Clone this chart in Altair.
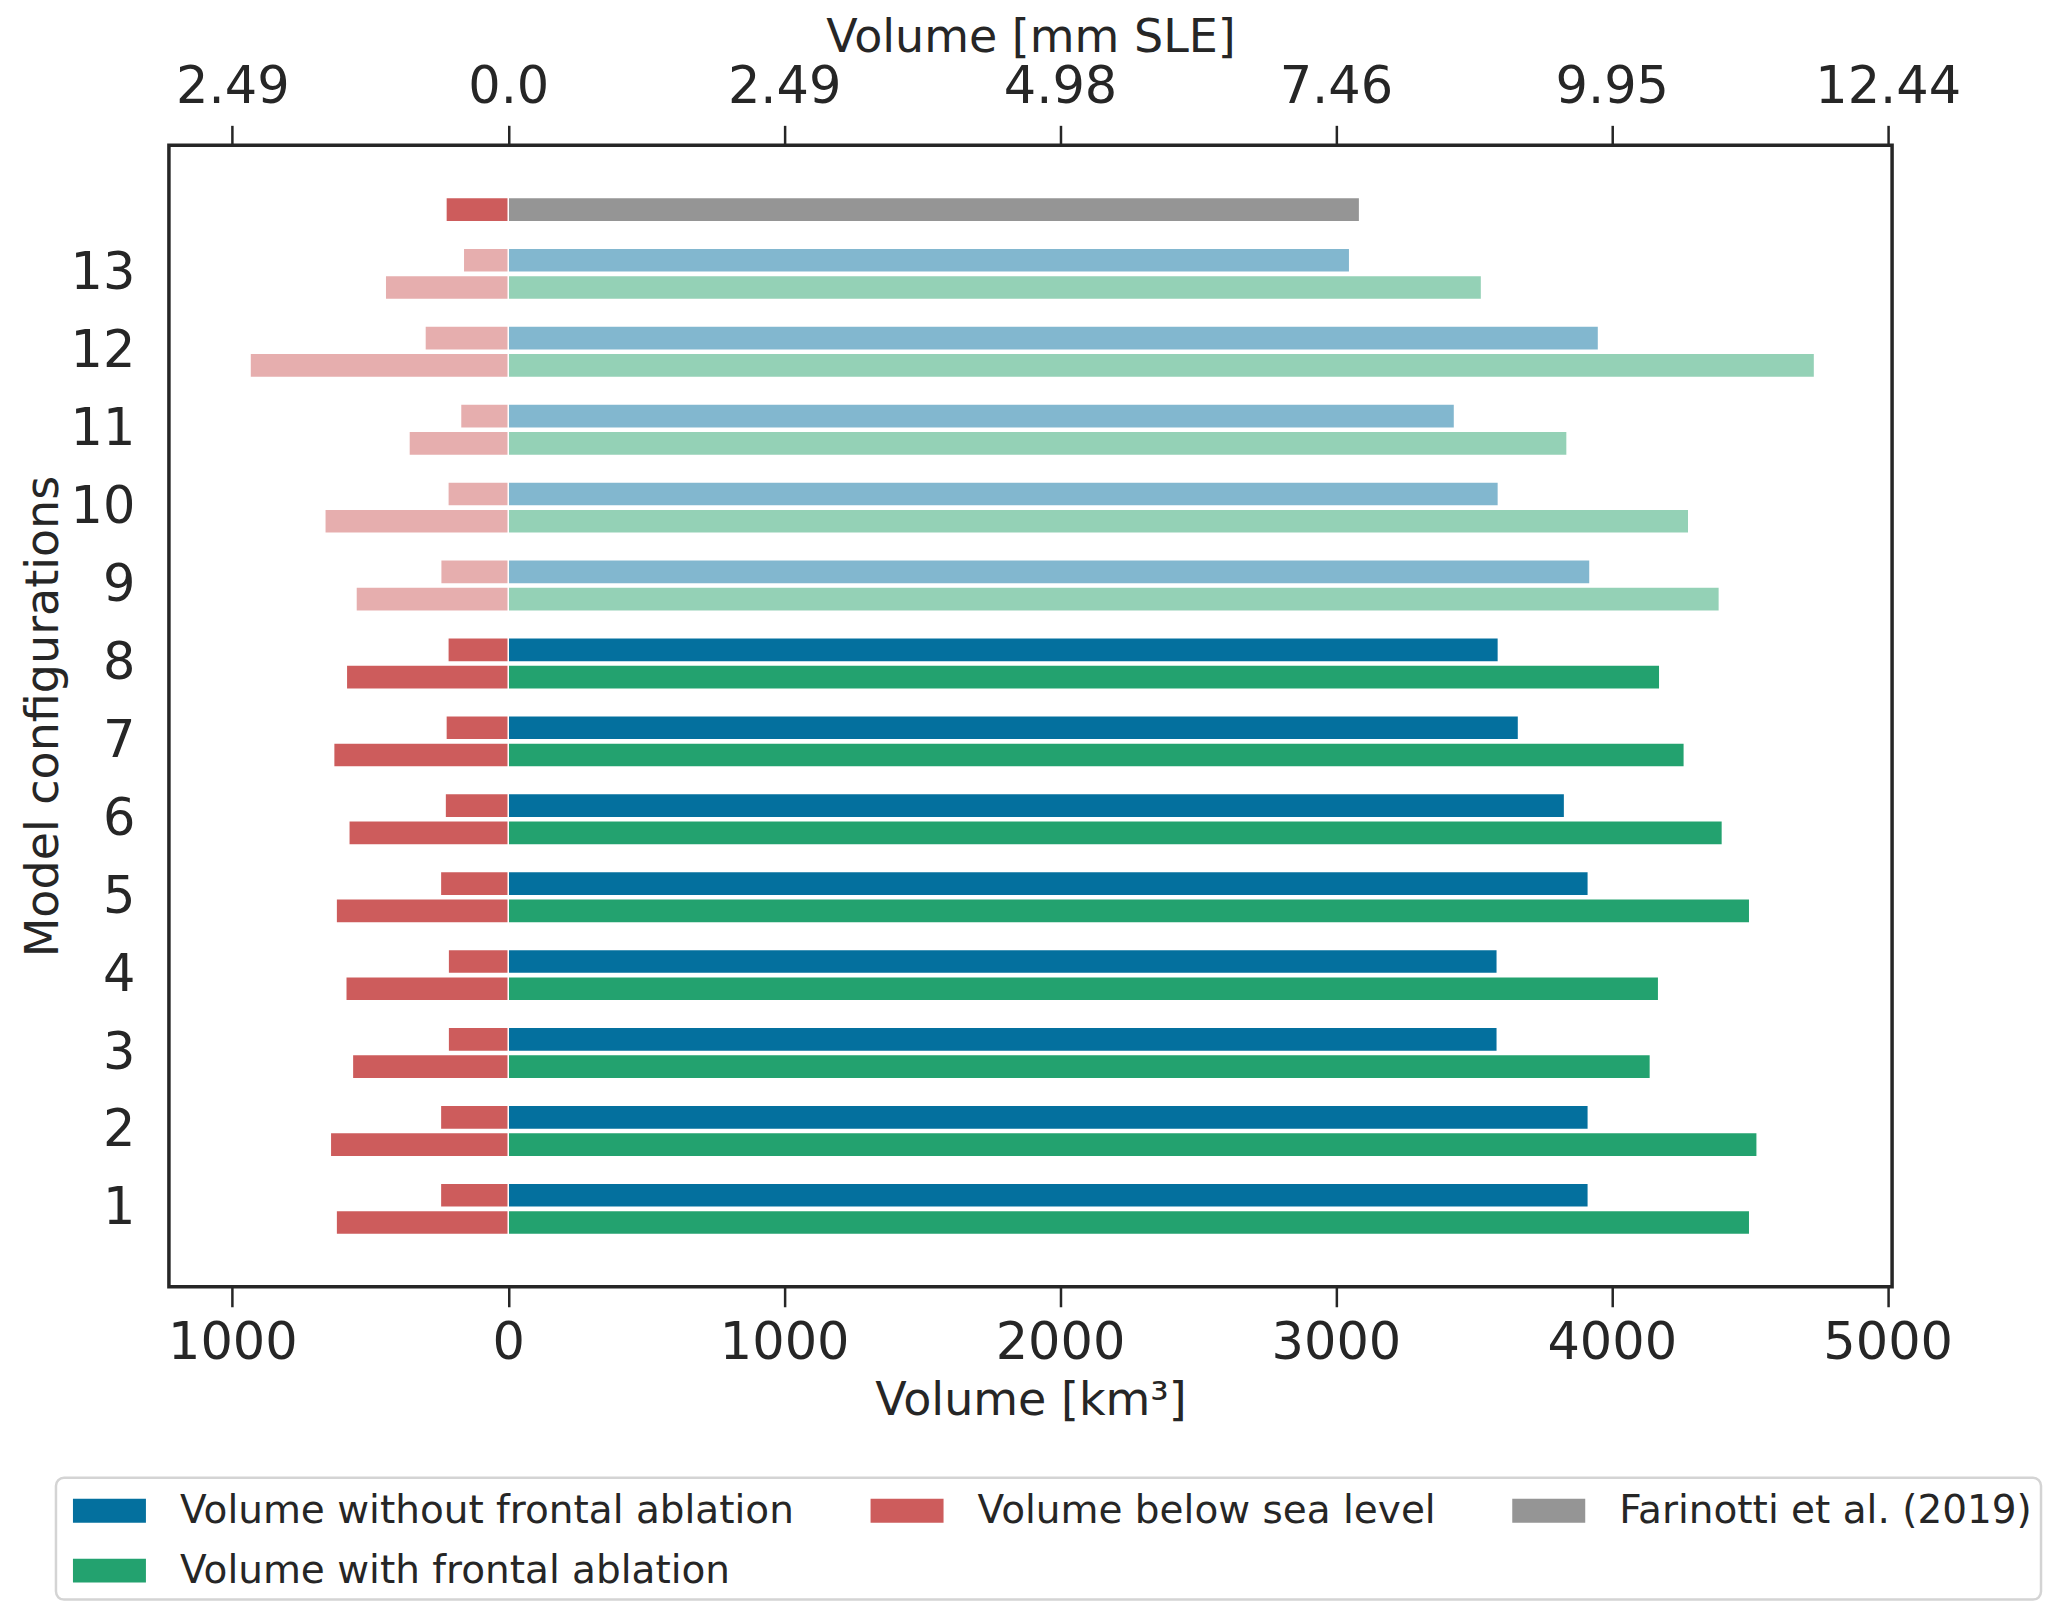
import altair as alt
import pandas as pd

# ---------------- data ----------------
configs = list(range(1, 14))
vol_without_fa = [3915, 3915, 3585, 3585, 3915, 3829, 3662, 3589, 3921, 3589, 3430, 3952, 3050]
vol_with_fa = [4500, 4527, 4140, 4170, 4500, 4401, 4263, 4174, 4390, 4279, 3838, 4735, 3528]
bsl_without_fa = [246, 246, 218, 218, 246, 229, 226, 219, 245, 219, 173, 302, 163]
bsl_with_fa = [624, 645, 565, 589, 624, 578, 633, 587, 552, 665, 360, 936, 446]
light_configs = [9, 10, 11, 12, 13]
farinotti_position = 14
farinotti_volume = 3086
farinotti_bsl = 226

x_ticks = [-1000, 0, 1000, 2000, 3000, 4000, 5000]
x_labels_km3 = ["1000", "0", "1000", "2000", "3000", "4000", "5000"]
x_labels_sle = ["2.49", "0.0", "2.49", "4.98", "7.46", "9.95", "12.44"]

NAME_WO = "Volume without frontal ablation"
NAME_W = "Volume with frontal ablation"
NAME_BSL = "Volume below sea level"
NAME_F = "Farinotti et al. (2019)"
legend_order = [NAME_WO, NAME_F, NAME_BSL, NAME_W]

keys = [NAME_WO, NAME_BSL, NAME_F, NAME_W, "light_wo", "light_w", "light_bsl"]
colors = ["#04709E", "#CD5C5C", "#959595", "#23A26F", "#82B7CF", "#94D1B6", "#E6AEAE"]

# ---------------- table for the library ----------------
OFF = 0.175
HALF = 0.155
rows = []
for i, c in enumerate(configs):
    light = c in light_configs
    top = c + OFF
    bot = c - OFF
    rows.append(dict(x0=0, x1=vol_without_fa[i], y0=top - HALF, y1=top + HALF,
                     key="light_wo" if light else NAME_WO))
    rows.append(dict(x0=-bsl_without_fa[i], x1=0, y0=top - HALF, y1=top + HALF,
                     key="light_bsl" if light else NAME_BSL))
    rows.append(dict(x0=0, x1=vol_with_fa[i], y0=bot - HALF, y1=bot + HALF,
                     key="light_w" if light else NAME_W))
    rows.append(dict(x0=-bsl_with_fa[i], x1=0, y0=bot - HALF, y1=bot + HALF,
                     key="light_bsl" if light else NAME_BSL))
fy = farinotti_position - OFF
rows.append(dict(x0=0, x1=farinotti_volume, y0=fy - HALF, y1=fy + HALF, key=NAME_F))
rows.append(dict(x0=-farinotti_bsl, x1=0, y0=fy - HALF, y1=fy + HALF, key=NAME_BSL))
df = pd.DataFrame(rows)


def label_expr(values, labels):
    expr = "''"
    for v, l in reversed(list(zip(values, labels))):
        expr = f"datum.value == {v} ? '{l}' : ({expr})"
    return expr


TXT = "#262626"
FONT = "DejaVu Sans"

xscale = alt.Scale(domain=[-1230, 5016], nice=False, zero=False)
yscale = alt.Scale(domain=[0, 14.65], nice=False, zero=False)

common_x_axis = dict(values=x_ticks, tickSize=20, tickWidth=2.5, tickColor=TXT,
                     labelFontSize=51, titleFontSize=46, domain=False, grid=False,
                     labelFlush=False, labelOverlap=False)

bottom_axis = alt.Axis(orient="bottom", title="Volume [km³]",
                       labelExpr=label_expr(x_ticks, x_labels_km3),
                       labelPadding=12, titleY=92, titleBaseline="top",
                       **common_x_axis)
top_axis = alt.Axis(orient="top", title="Volume [mm SLE]",
                    labelExpr=label_expr(x_ticks, x_labels_sle),
                    labelPadding=12, titleY=-84, titleBaseline="bottom",
                    **common_x_axis)
y_axis = alt.Axis(values=configs, tickSize=0, tickWidth=0, labelPadding=34,
                  labelFontSize=51, title="Model configurations", titleFontSize=46,
                  titleX=-101, titleBaseline="bottom", domain=False, grid=False,
                  labelOverlap=False)

y_enc = alt.Y("y0:Q", scale=yscale, axis=y_axis)

bars = alt.Chart(df).mark_bar(stroke="white", strokeWidth=1.5, opacity=1).encode(
    x=alt.X("x0:Q", scale=xscale, axis=bottom_axis),
    x2="x1:Q",
    y=y_enc,
    y2="y1:Q",
    color=alt.Color(
        "key:N",
        scale=alt.Scale(domain=keys, range=colors),
        legend=alt.Legend(
            title=None, orient="none", legendX=-113, legendY=1333,
            values=legend_order, columns=3,
            symbolType="M-0.667,-0.5H2.375V0.5H-0.667Z", symbolSize=2304,
            symbolStrokeWidth=0, symbolOpacity=1,
            labelFontSize=39, labelOffset=67, labelLimit=1000,
            columnPadding=68, rowPadding=16,
        ),
    ),
)

top_layer = alt.Chart(df).mark_bar(opacity=0).encode(
    x=alt.X("x0:Q", scale=xscale, axis=top_axis),
    x2="x1:Q",
    y=y_enc,
    y2="y1:Q",
)

chart = (
    alt.layer(bars, top_layer)
    .resolve_axis(x="independent")
    .properties(
        width=1724,
        height=1142,
        padding={"left": 161, "top": 137, "right": 167, "bottom": 330},
        autosize=alt.AutoSizeParams(type="none"),
        background="white",
    )
    .configure(font=FONT)
    .configure_view(stroke=TXT, strokeWidth=3.5)
    .configure_axis(labelFont=FONT, titleFont=FONT, labelColor=TXT, titleColor=TXT,
                    titleFontWeight="normal")
    .configure_legend(labelFont=FONT, labelColor=TXT, padding=9,
                      strokeColor="#d4d4d4", strokeWidth=2.5, cornerRadius=8,
                      fillColor="white")
)

chart.save("out.html", embed_options={"renderer": "svg", "actions": False})
